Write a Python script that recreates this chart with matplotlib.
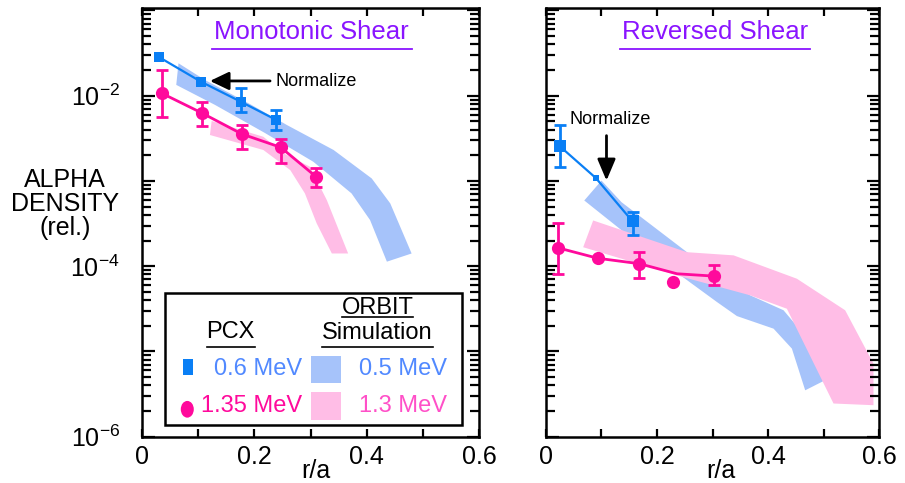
import matplotlib
matplotlib.use("Agg")
import matplotlib.pyplot as plt
import numpy as np
from matplotlib.ticker import LogLocator, FuncFormatter, MultipleLocator, NullFormatter
from matplotlib.patches import Rectangle, Ellipse

plt.rcParams['font.family'] = ['Liberation Sans', 'DejaVu Sans']
plt.rcParams['mathtext.fontset'] = 'custom'
plt.rcParams['mathtext.rm'] = 'Liberation Sans'
plt.rcParams['mathtext.it'] = 'Liberation Sans:italic'
plt.rcParams['mathtext.bf'] = 'Liberation Sans:bold'
plt.rcParams['axes.unicode_minus'] = False

BLUE = '#0a7ff5'
PINK = '#ff0a9c'
BLUE_BAND = '#a6c3fa'
PINK_BAND = '#ffbde6'
BLUE_TXT = '#5189ff'
PINK_TXT = '#ff50c8'
PURPLE = '#8a14ff'

# ---- monotonic shear ----
# PCX 0.6 MeV (squares), lo/hi = error bar ends (same as value -> no bar)
mono_r_06 = [0.031, 0.105, 0.176, 0.239]
mono_n_06 = [2.82e-2, 1.46e-2, 8.5e-3, 5.2e-3]
mono_lo_06 = [2.82e-2, 1.46e-2, 6.5e-3, 3.95e-3]
mono_hi_06 = [2.82e-2, 1.46e-2, 1.22e-2, 6.8e-3]

# PCX 1.35 MeV (circles)
mono_r_135 = [0.035, 0.106, 0.178, 0.247, 0.310]
mono_n_135 = [1.07e-2, 6.3e-3, 3.55e-3, 2.48e-3, 1.12e-3]
mono_lo_135 = [5.6e-3, 4.4e-3, 2.34e-3, 1.61e-3, 8.55e-4]
mono_hi_135 = [2.0e-2, 8.5e-3, 4.5e-3, 3.1e-3, 1.43e-3]

# ORBIT 0.5 MeV band edges
mono_b05_up_r = [0.065, 0.112, 0.192, 0.258, 0.341, 0.409, 0.442, 0.480]
mono_b05_up_n = [2.40e-2, 1.53e-2, 8.0e-3, 4.53e-3, 2.31e-3, 1.07e-3, 5.45e-4, 1.41e-4]
mono_b05_lo_r = [0.061, 0.130, 0.219, 0.305, 0.373, 0.406, 0.436]
mono_b05_lo_n = [1.34e-2, 7.8e-3, 3.65e-3, 1.68e-3, 7.15e-4, 3.48e-4, 1.13e-4]

# ORBIT 1.3 MeV band edges
mono_b13_up_r = [0.124, 0.216, 0.252, 0.299, 0.329, 0.367]
mono_b13_up_n = [5.05e-3, 3.30e-3, 2.11e-3, 1.47e-3, 5.97e-4, 1.41e-4]
mono_b13_lo_r = [0.121, 0.216, 0.264, 0.290, 0.311, 0.338]
mono_b13_lo_n = [3.46e-3, 2.31e-3, 1.34e-3, 7.15e-4, 3.18e-4, 1.41e-4]

# ---- reversed shear ----
rev_r_06 = [0.025, 0.090, 0.156]
rev_n_06 = [2.55e-3, 1.08e-3, 3.35e-4]
rev_lo_06 = [1.45e-3, 1.08e-3, 2.35e-4]
rev_hi_06 = [4.53e-3, 1.08e-3, 4.3e-4]

rev_r_135 = [0.022, 0.093, 0.168, 0.228, 0.303]
rev_n_135 = [1.64e-4, 1.24e-4, 1.07e-4, 6.5e-5, 7.65e-5]
rev_lo_135 = [8.15e-5, 1.24e-4, 7.3e-5, 6.5e-5, 5.96e-5]
rev_hi_135 = [3.2e-4, 1.24e-4, 1.46e-4, 6.5e-5, 1.02e-4]

# line drawn through the 1.35 MeV points
rev_fit_r = [0.022, 0.093, 0.168, 0.236, 0.303]
rev_fit_n = [1.64e-4, 1.24e-4, 1.07e-4, 8.15e-5, 7.65e-5]

rev_b05_up_r = [0.100, 0.136, 0.254, 0.320, 0.368, 0.428, 0.476, 0.503]
rev_b05_up_n = [1.01e-3, 5.64e-4, 1.46e-4, 6.82e-5, 4.55e-5, 3.04e-5, 1.29e-5, 4.6e-6]
rev_b05_lo_r = [0.069, 0.193, 0.308, 0.344, 0.410, 0.443, 0.467]
rev_b05_lo_n = [5.9e-4, 1.34e-4, 3.8e-5, 2.6e-5, 1.85e-5, 1.08e-5, 3.5e-6]

rev_b13_up_r = [0.085, 0.254, 0.338, 0.452, 0.539, 0.590]
rev_b13_up_n = [3.44e-4, 1.46e-4, 1.34e-4, 7.13e-5, 3.04e-5, 7.2e-6]
rev_b13_lo_r = [0.067, 0.247, 0.368, 0.434, 0.518, 0.590]
rev_b13_lo_n = [1.67e-4, 7.45e-5, 4.55e-5, 3.17e-5, 2.45e-6, 2.34e-6]


def band(ax, up_r, up_n, lo_r, lo_n, color):
    ax.fill(up_r + lo_r[::-1], up_n + lo_n[::-1], color=color, lw=0)


def errbars(ax, r, n, lo, hi, color):
    r, n, lo, hi = map(np.array, (r, n, lo, hi))
    m = hi > lo
    ax.errorbar(r[m], n[m], yerr=[n[m] - lo[m], hi[m] - n[m]], fmt='none',
                ecolor=color, elinewidth=2, capsize=4, capthick=2, zorder=3)


def ylab(v, pos):
    e = int(round(np.log10(v)))
    if e in (-2, -4, -6):
        return r'$\mathdefault{10^{%d}}$' % e
    return ''


def xlab(v, pos):
    return '0' if abs(v) < 1e-9 else '%.1f' % v


def style_axes(ax, ylabels=True):
    ax.set_yscale('log')
    ax.set_xlim(0, 0.6)
    ax.set_ylim(1e-6, 1.07e-1)
    ax.xaxis.set_major_locator(MultipleLocator(0.2))
    ax.xaxis.set_minor_locator(MultipleLocator(0.1))
    ax.xaxis.set_major_formatter(FuncFormatter(xlab))
    ax.yaxis.set_major_locator(LogLocator(base=10, numticks=20))
    ax.yaxis.set_minor_locator(LogLocator(base=10, subs=np.arange(2, 10), numticks=20))
    ax.yaxis.set_major_formatter(FuncFormatter(ylab))
    ax.yaxis.set_minor_formatter(NullFormatter())
    ax.tick_params(which='both', direction='in', top=True, right=True, width=1.6)
    ax.tick_params(axis='y', which='major', length=9, pad=16, labelsize=18)
    ax.tick_params(axis='y', which='minor', length=6.5)
    ax.tick_params(axis='x', which='both', length=5.5, pad=6, labelsize=18)
    if not ylabels:
        ax.tick_params(axis='y', labelleft=False)
    for s in ax.spines.values():
        s.set_linewidth(1.8)


def title(ax, txt, x0, x1):
    ax.text((x0 + x1) / 2, 0.943, txt, transform=ax.transAxes, ha='center',
            va='center', fontsize=18.5, color=PURPLE)
    ax.plot([x0, x1], [0.905, 0.905], transform=ax.transAxes, color=PURPLE, lw=1.3)


fig = plt.figure(figsize=(9.05, 4.83), dpi=100)
ax1 = fig.add_axes([0.1569, 0.0959, 0.3724, 0.8876])
ax2 = fig.add_axes([0.6033, 0.0959, 0.3680, 0.8876])

# ---- left panel ----
style_axes(ax1)
band(ax1, mono_b05_up_r, mono_b05_up_n, mono_b05_lo_r, mono_b05_lo_n, BLUE_BAND)
band(ax1, mono_b13_up_r, mono_b13_up_n, mono_b13_lo_r, mono_b13_lo_n, PINK_BAND)
ax1.plot(mono_r_135, mono_n_135, '-o', color=PINK, lw=2, ms=9.5, mew=0, zorder=3)
errbars(ax1, mono_r_135, mono_n_135, mono_lo_135, mono_hi_135, PINK)
ax1.plot(mono_r_06, mono_n_06, '-s', color=BLUE, lw=1.6, ms=7.5, mew=0, zorder=3)
errbars(ax1, mono_r_06, mono_n_06, mono_lo_06, mono_hi_06, BLUE)

ax1.annotate('', xy=(0.121, 1.49e-2), xytext=(0.228, 1.49e-2),
             arrowprops=dict(arrowstyle='-|>,head_length=1.15,head_width=0.55',
                             mutation_scale=10, color='k', lw=2,
                             shrinkA=0, shrinkB=0))
ax1.text(0.237, 1.46e-2, 'Normalize', fontsize=13, va='center', ha='left')
title(ax1, 'Monotonic Shear', 0.207, 0.800)
ax1.set_xlabel('r/a', fontsize=18)
ax1.xaxis.set_label_coords(0.516, -0.052)

# legend box
ax1.add_patch(Rectangle((0.068, 0.027), 0.881, 0.3075, transform=ax1.transAxes,
                        facecolor='white', edgecolor='black', lw=1.8, zorder=5))
ax1.text(0.2635, 0.244, 'PCX', transform=ax1.transAxes, ha='center', va='center',
         fontsize=17, zorder=6)
ax1.plot([0.192, 0.335], [0.2085, 0.2085], transform=ax1.transAxes, color='k',
         lw=1.2, zorder=6)
ax1.text(0.699, 0.2995, 'ORBIT', transform=ax1.transAxes, ha='center', va='center',
         fontsize=17, zorder=6)
ax1.plot([0.593, 0.805], [0.2785, 0.2785], transform=ax1.transAxes, color='k',
         lw=1.2, zorder=6)
ax1.text(0.699, 0.243, 'Simulation', transform=ax1.transAxes, ha='center',
         va='center', fontsize=17, zorder=6)
ax1.plot([0.535, 0.863], [0.2085, 0.2085], transform=ax1.transAxes, color='k',
         lw=1.2, zorder=6)
ax1.add_patch(Rectangle((0.1226, 0.144), 0.0297, 0.0373, transform=ax1.transAxes,
                        facecolor=BLUE, lw=0, zorder=6))
ax1.add_patch(Ellipse((0.1344, 0.0639), 0.0386, 0.039, transform=ax1.transAxes,
                      facecolor=PINK, lw=0, zorder=6))
ax1.add_patch(Rectangle((0.5015, 0.126), 0.089, 0.063, transform=ax1.transAxes,
                        facecolor=BLUE_BAND, lw=0, zorder=6))
ax1.add_patch(Rectangle((0.5015, 0.039), 0.089, 0.0646, transform=ax1.transAxes,
                        facecolor=PINK_BAND, lw=0, zorder=6))
ax1.text(0.474, 0.158, '0.6 MeV', transform=ax1.transAxes, ha='right', va='center',
         fontsize=17, color=BLUE_TXT, zorder=6)
ax1.text(0.474, 0.072, '1.35 MeV', transform=ax1.transAxes, ha='right', va='center',
         fontsize=17, color=PINK, zorder=6)
ax1.text(0.904, 0.158, '0.5 MeV', transform=ax1.transAxes, ha='right', va='center',
         fontsize=17, color=BLUE_TXT, zorder=6)
ax1.text(0.904, 0.072, '1.3 MeV', transform=ax1.transAxes, ha='right', va='center',
         fontsize=17, color=PINK_TXT, zorder=6)

# ---- right panel ----
style_axes(ax2, ylabels=False)
band(ax2, rev_b05_up_r, rev_b05_up_n, rev_b05_lo_r, rev_b05_lo_n, BLUE_BAND)
band(ax2, rev_b13_up_r, rev_b13_up_n, rev_b13_lo_r, rev_b13_lo_n, PINK_BAND)
ax2.plot(rev_fit_r, rev_fit_n, '-', color=PINK, lw=2, zorder=3)
ax2.plot(rev_r_135, rev_n_135, 'o', color=PINK, ms=9.5, mew=0, zorder=3)
errbars(ax2, rev_r_135, rev_n_135, rev_lo_135, rev_hi_135, PINK)
ax2.plot(rev_r_06, rev_n_06, '-', color=BLUE, lw=1.6, zorder=3)
ax2.plot(rev_r_06[0::2], rev_n_06[0::2], 's', color=BLUE, ms=8, mew=0, zorder=3)
ax2.plot(rev_r_06[1:2], rev_n_06[1:2], 's', color=BLUE, ms=5, mew=0, zorder=3)
errbars(ax2, rev_r_06, rev_n_06, rev_lo_06, rev_hi_06, BLUE)

ax2.annotate('', xy=(0.109, 1.01e-3), xytext=(0.109, 3.4e-3),
             arrowprops=dict(arrowstyle='-|>,head_length=1.3,head_width=0.55',
                             mutation_scale=10, color='k', lw=2,
                             shrinkA=0, shrinkB=0))
ax2.text(0.1153, 5.2e-3, 'Normalize', fontsize=13, va='center', ha='center')
title(ax2, 'Reversed Shear', 0.222, 0.793)
ax2.set_xlabel('r/a', fontsize=18)
ax2.xaxis.set_label_coords(0.5255, -0.052)

fig.text(0.0718, 0.5776, 'ALPHA\nDENSITY\n(rel.)', ha='center', va='center',
         fontsize=18, linespacing=1.0)

fig.savefig('out.png', dpi=100)
